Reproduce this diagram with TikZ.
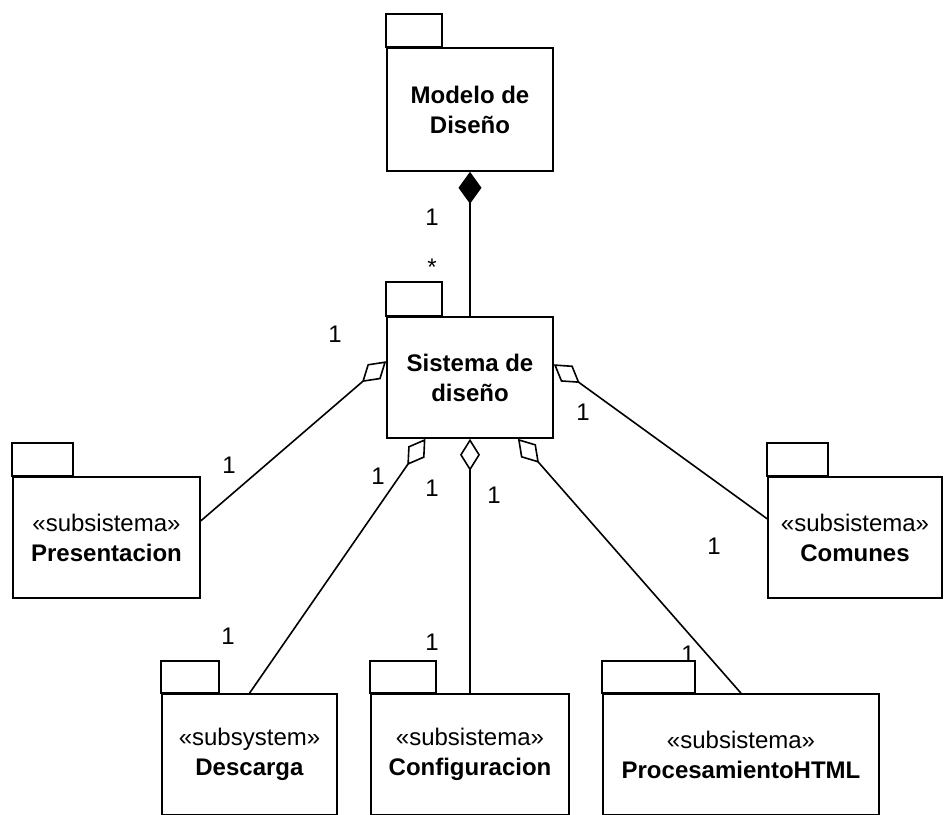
\documentclass[tikz,border=0pt]{standalone}
\usepackage{fontspec}
\setmainfont{Liberation Sans}
\usetikzlibrary{arrows.meta,calc}

% package tab drawn on top of the body's upper-left corner
\newcommand\pkgtab[3]{\draw[pkgline] (#1.north west) rectangle ++(#2,-#3);}

\begin{document}
\begin{tikzpicture}[x=1pt,y=-1pt,
  pkgline/.style={line width=1.6pt},
  body/.style={draw, pkgline, fill=white, align=center, inner sep=0pt,
               font=\fontsize{24}{30}\selectfont},
  link/.style={line width=1.6pt},
  agg/.style={{Diamond[fill=white,length=32pt,width=20pt]}-},
  comp/.style={{Diamond[fill=black,length=32pt,width=23pt]}-},
  mult/.style={font=\fontsize{24}{28}\selectfont, inner sep=0pt}
]
\useasboundingbox (0,0) rectangle (944,814);
\clip (0,0) rectangle (944,814);

% packages
\node[body, minimum width=166pt, minimum height=123pt] (mod) at (470,109.5)
  {\textbf{Modelo de}\\\textbf{Diseño}};
\pkgtab{mod}{56}{33}

\node[body, minimum width=166pt, minimum height=121pt] (sis) at (470,377.5)
  {\textbf{Sistema de}\\\textbf{diseño}};
\pkgtab{sis}{56}{34}

\node[body, minimum width=187pt, minimum height=121pt] (pres) at (106.5,537.5)
  {«subsistema»\\\textbf{Presentacion}};
\pkgtab{pres}{61}{33}

\node[body, minimum width=174pt, minimum height=121pt] (com) at (855,537.5)
  {«subsistema»\\\textbf{Comunes}};
\pkgtab{com}{61}{33}

\node[body, minimum width=175pt, minimum height=121pt] (desc) at (249.5,754.5)
  {«subsystem»\\\textbf{Descarga}};
\pkgtab{desc}{58}{32}

\node[body, minimum width=198pt, minimum height=121pt] (conf) at (470,754.5)
  {«subsistema»\\\textbf{Configuracion}};
\pkgtab{conf}{66}{32}

\node[body, minimum width=276pt, minimum height=121pt] (proc) at (741,754.5)
  {«subsistema»\\\textbf{ProcesamientoHTML}};
\pkgtab{proc}{93}{32}

% composition and aggregations
\draw[link,comp] (mod.south) -- (sis.north);
\draw[link,agg] (sis.169.4) -- (pres.10.6);
\draw[link,agg] (sis.9.9) -- (com.168.7);
\draw[link,agg] (sis.234.6) -- (desc.north);
\draw[link,agg] (sis.south) -- (conf.north);
\draw[link,agg] (sis.-52.2) -- (proc.north);

% multiplicities
\node[mult] (m1) at (432,217) {1};
\node[mult] (m2) at (432,267) {*};
\node[mult] (m3) at (335,334) {1};
\node[mult] (m4) at (229,465) {1};
\node[mult] (m5) at (583,412) {1};
\node[mult] (m6) at (714,546) {1};
\node[mult] (m7) at (378,476) {1};
\node[mult] (m8) at (432,488) {1};
\node[mult] (m9) at (494,495) {1};
\node[mult] (m10) at (228,636) {1};
\node[mult] (m11) at (432,642) {1};
\node[mult] (m12) at (688,654) {1};
\end{tikzpicture}
\end{document}
